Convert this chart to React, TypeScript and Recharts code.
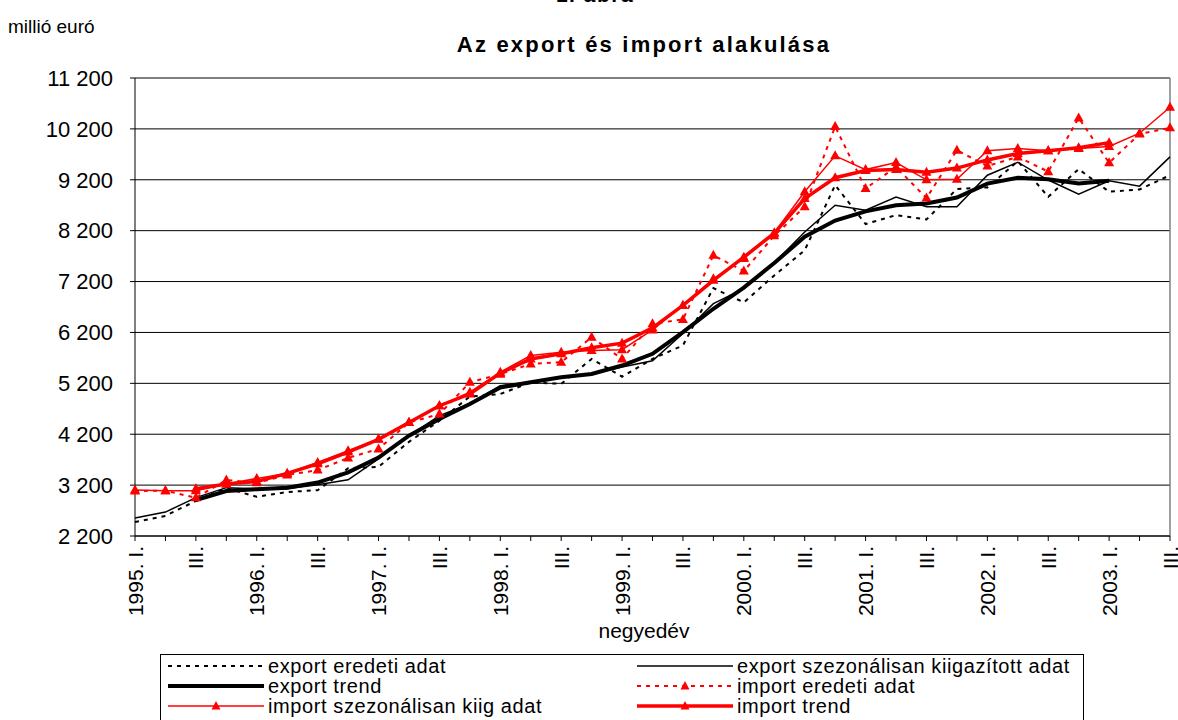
import React from 'react';
import { LineChart, Line, XAxis, YAxis, CartesianGrid, ReferenceLine } from 'recharts';

const quarters: string[] = [
  '1995. I.', '1995. II.', '1995. III.', '1995. IV.',
  '1996. I.', '1996. II.', '1996. III.', '1996. IV.',
  '1997. I.', '1997. II.', '1997. III.', '1997. IV.',
  '1998. I.', '1998. II.', '1998. III.', '1998. IV.',
  '1999. I.', '1999. II.', '1999. III.', '1999. IV.',
  '2000. I.', '2000. II.', '2000. III.', '2000. IV.',
  '2001. I.', '2001. II.', '2001. III.', '2001. IV.',
  '2002. I.', '2002. II.', '2002. III.', '2002. IV.',
  '2003. I.', '2003. II.', '2003. III.',
];

const exportOrig: (number | null)[] = [2475, 2595, 2890, 3140, 2970, 3065, 3100, 3530, 3560, 4050, 4465, 4940, 4990, 5220, 5190, 5680, 5330, 5680, 5945, 7070, 6790, 7320, 7815, 9095, 8330, 8505, 8420, 9020, 9050, 9565, 8865, 9410, 8965, 9010, 9290];
const exportSA: (number | null)[] = [2555, 2670, 2955, 3150, 3130, 3130, 3205, 3305, 3715, 4170, 4565, 4800, 5155, 5220, 5320, 5385, 5520, 5645, 6180, 6765, 7060, 7565, 8175, 8700, 8600, 8860, 8670, 8670, 9290, 9545, 9195, 8915, 9180, 9075, 9650];
const exportTrend: (number | null)[] = [null, null, 2905, 3085, 3120, 3150, 3250, 3450, 3740, 4170, 4500, 4795, 5120, 5220, 5320, 5385, 5550, 5780, 6205, 6665, 7080, 7565, 8080, 8400, 8580, 8700, 8735, 8850, 9125, 9240, 9210, 9125, 9180, null, null];
const importOrig: (number | null)[] = [3085, 3090, 2950, 3300, 3245, 3400, 3495, 3735, 3910, 4430, 4595, 5220, 5380, 5580, 5615, 6105, 5680, 6370, 6455, 7715, 7405, 8100, 8670, 10245, 9030, 9450, 8840, 9780, 9470, 9650, 9360, 10415, 9535, 10100, 10220];
const importSA: (number | null)[] = [3105, 3090, 3090, 3220, 3330, 3430, 3645, 3875, 4105, 4430, 4760, 5025, 5420, 5745, 5810, 5845, 5860, 6250, 6730, 7255, 7655, 8160, 8965, 9670, 9400, 9540, 9200, 9210, 9770, 9815, 9770, 9815, 9855, 10115, 10625];
const importTrend: (number | null)[] = [null, null, 3130, 3220, 3270, 3430, 3620, 3850, 4100, 4430, 4760, 4990, 5400, 5680, 5780, 5900, 5990, 6290, 6730, 7225, 7680, 8150, 8830, 9240, 9380, 9400, 9350, 9430, 9590, 9715, 9770, 9830, 9930, null, null];

const yTicks: number[] = [2200, 3200, 4200, 5200, 6200, 7200, 8200, 9200, 10200, 11200];

const seriesNames = {
  exportOrig: 'export eredeti adat',
  exportSA: 'export szezonálisan kiigazított adat',
  exportTrend: 'export trend',
  importOrig: 'import eredeti adat',
  importSA: 'import szezonálisan kiig adat',
  importTrend: 'import trend',
};

const data = quarters.map((q, i) => ({
  q,
  exportOrig: exportOrig[i],
  exportSA: exportSA[i],
  exportTrend: exportTrend[i],
  importOrig: importOrig[i],
  importSA: importSA[i],
  importTrend: importTrend[i],
}));

const FONT = '"Liberation Sans", Arial, sans-serif';
const RED = '#FF0000';

const fmtY = (v: number) => {
  const th = Math.floor(v / 1000);
  const rest = String(v % 1000).padStart(3, '0');
  return th > 0 ? `${th} ${rest}` : rest;
};

const XTick = (props: any) => {
  const { x, y, payload } = props;
  const v: string = payload.value;
  let label = '';
  if (v.endsWith(' III.')) label = 'III.';
  else if (v.endsWith(' I.')) label = v;
  if (!label) return <g />;
  const ty = y + 3;
  return (
    <text
      x={x}
      y={ty}
      transform={`rotate(-90 ${x} ${ty})`}
      textAnchor="end"
      dy="0.36em"
      fill="#000"
      fontSize={21}
      fontFamily={FONT}
    >
      {label}
    </text>
  );
};

const triangleDot = (props: any) => {
  const { cx, cy, index } = props;
  if (cx == null || cy == null || props.value == null) return <g key={`t-${index}`} />;
  return (
    <polygon
      key={`t-${index}`}
      points={`${cx},${cy - 5.5} ${cx - 5},${cy + 3.5} ${cx + 5},${cy + 3.5}`}
      fill={RED}
      stroke="none"
    />
  );
};

const LegendSample = ({ color, width, dash, marker }: { color: string; width: number; dash?: string; marker?: boolean }) => (
  <svg width={96} height={12} style={{ display: 'block' }}>
    <line x1={0} y1={6} x2={96} y2={6} stroke={color} strokeWidth={width} strokeDasharray={dash} />
    {marker && <polygon points="48,1 43.5,9.5 52.5,9.5" fill={RED} />}
  </svg>
);

const LegendItem = ({ left, top, label, color, width, dash, marker }: any) => (
  <div style={{ position: 'absolute', left, top, display: 'flex', alignItems: 'center', height: 20 }}>
    <LegendSample color={color} width={width} dash={dash} marker={marker} />
    <span style={{ fontFamily: FONT, fontSize: 20, lineHeight: '20px', letterSpacing: 0.6, marginLeft: 4, whiteSpace: 'nowrap' }}>{label}</span>
  </div>
);

export default function App() {
  return (
    <div style={{ position: 'absolute', left: 0, top: 0, width: 1178, height: 720, overflow: 'hidden', background: '#fff', fontFamily: FONT }}>
      <div style={{ position: 'absolute', left: 0, width: 1190, top: -17, textAlign: 'center', fontWeight: 'bold', fontSize: 21, letterSpacing: 1.5 }}>1. ábra</div>
      <div style={{ position: 'absolute', left: 8, top: 16, fontSize: 19 }}>millió euró</div>
      <div style={{ position: 'absolute', left: 0, width: 1288, top: 32, textAlign: 'center', fontWeight: 'bold', fontSize: 22, letterSpacing: 2.2 }}>Az export és import alakulása</div>
      <div style={{ position: 'absolute', left: 0, width: 1288, top: 619, textAlign: 'center', fontSize: 21 }}>negyedév</div>

      <LineChart width={1178} height={720} data={data} margin={{ top: 78, right: 8, left: 0, bottom: 0 }}>
        <CartesianGrid vertical={false} stroke="#000" strokeWidth={1} />
        <XAxis
          dataKey="q"
          height={184}
          interval={0}
          tickSize={5}
          tick={<XTick />}
          axisLine={{ stroke: '#000' }}
          tickLine={{ stroke: '#000' }}
          padding={{ left: 0, right: 0 }}
        />
        <YAxis
          width={135}
          domain={[2200, 11200]}
          ticks={yTicks}
          interval={0}
          tickFormatter={fmtY}
          tickSize={5}
          tickMargin={17}
          axisLine={{ stroke: '#000' }}
          tickLine={{ stroke: '#000' }}
          tick={{ fill: '#000', fontSize: 22, fontFamily: FONT }}
        />
        <ReferenceLine x="2003. III." stroke="#808080" strokeWidth={1.5} />
        <Line dataKey="exportOrig" name={seriesNames.exportOrig} stroke="#000" strokeWidth={2} strokeDasharray="4 5" dot={false} isAnimationActive={false} />
        <Line dataKey="exportSA" name={seriesNames.exportSA} stroke="#000" strokeWidth={1.5} dot={false} isAnimationActive={false} />
        <Line dataKey="exportTrend" name={seriesNames.exportTrend} stroke="#000" strokeWidth={4} dot={false} isAnimationActive={false} />
        <Line dataKey="importOrig" name={seriesNames.importOrig} stroke={RED} strokeWidth={2} strokeDasharray="4 5" dot={triangleDot} activeDot={false} isAnimationActive={false} />
        <Line dataKey="importSA" name={seriesNames.importSA} stroke={RED} strokeWidth={1.5} dot={triangleDot} activeDot={false} isAnimationActive={false} />
        <Line dataKey="importTrend" name={seriesNames.importTrend} stroke={RED} strokeWidth={3.5} dot={triangleDot} activeDot={false} isAnimationActive={false} />
      </LineChart>

      <div style={{ position: 'absolute', left: 160, top: 654, width: 924, height: 80, border: '1px solid #000', boxSizing: 'border-box' }} />
      <LegendItem left={168} top={656} label={seriesNames.exportOrig} color="#000" width={2} dash="4 5" />
      <LegendItem left={637} top={656} label={seriesNames.exportSA} color="#000" width={1.5} />
      <LegendItem left={168} top={676} label={seriesNames.exportTrend} color="#000" width={4} />
      <LegendItem left={637} top={676} label={seriesNames.importOrig} color={RED} width={2} dash="4 5" marker />
      <LegendItem left={168} top={696} label={seriesNames.importSA} color={RED} width={1.5} marker />
      <LegendItem left={637} top={696} label={seriesNames.importTrend} color={RED} width={3.5} marker />
    </div>
  );
}
